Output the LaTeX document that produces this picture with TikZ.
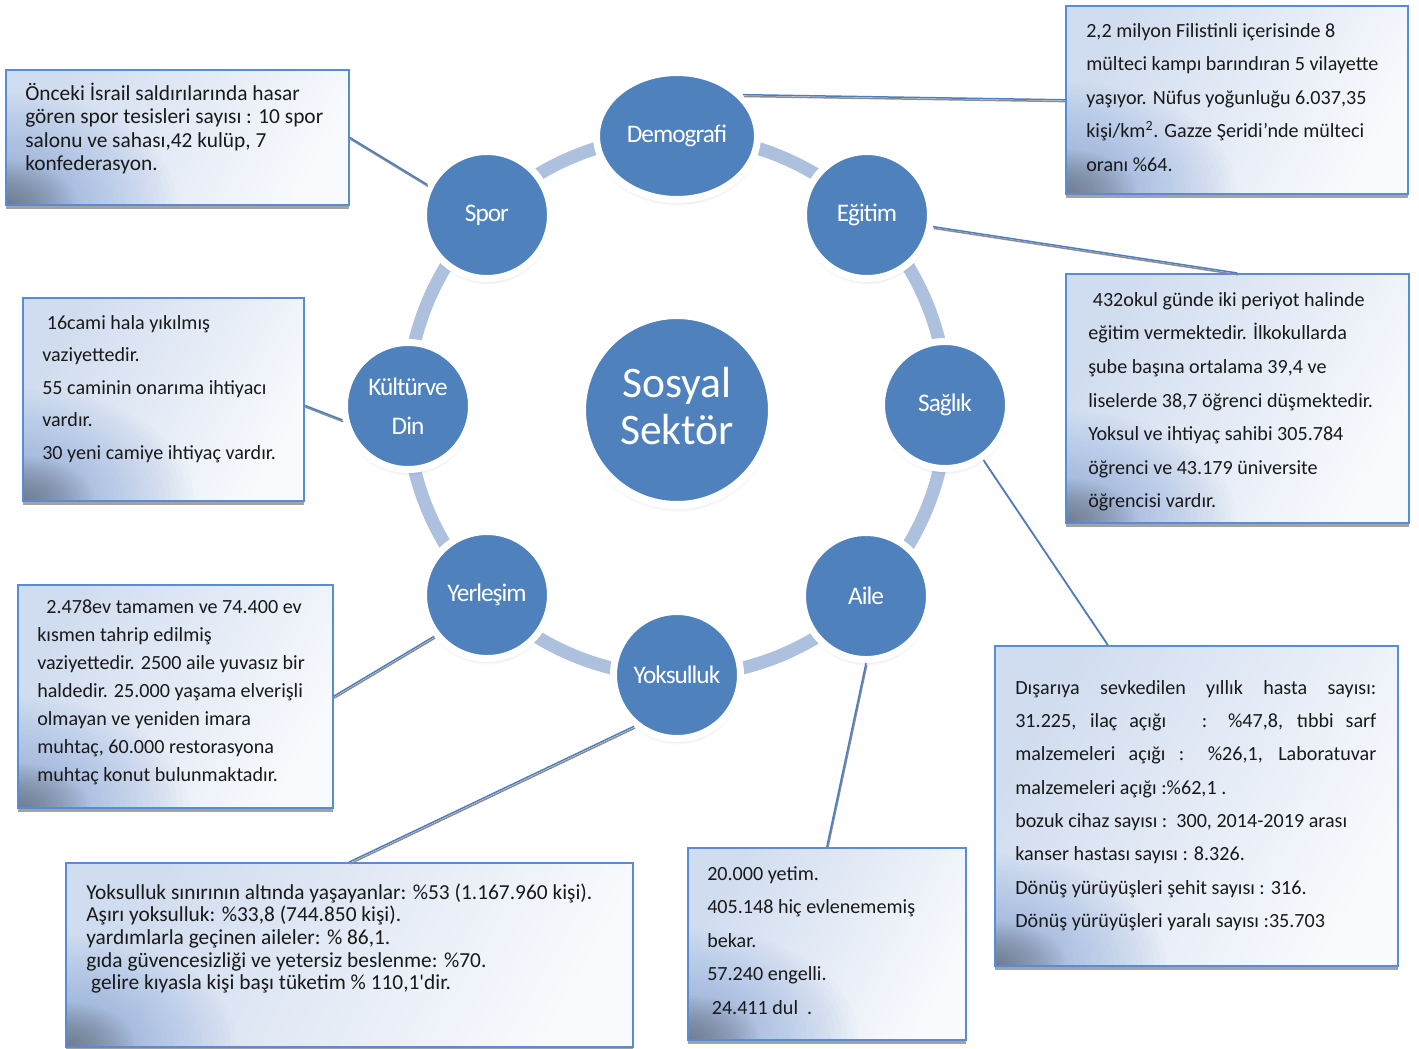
\documentclass[tikz,border=0pt]{standalone}
\usepackage{fontspec}
\setmainfont{Carlito}[Ligatures=TeXOff]
\newfontfamily\labfont[LetterSpace=-4]{Carlito}
\usetikzlibrary{shadows,shapes.geometric}
\newdimen\PX \PX=0.025cm
\definecolor{nodeblue}{RGB}{79,129,189}
\definecolor{ringblue}{RGB}{173,192,222}
\definecolor{boxline}{RGB}{88,140,212}
\definecolor{connblue}{RGB}{74,126,195}
\definecolor{boxL}{RGB}{208,220,239}
\definecolor{boxR}{RGB}{248,250,253}
\definecolor{cornerblue}{RGB}{125,160,212}
\definecolor{cornergray}{RGB}{95,95,105}
\tikzset{
  infobox/.style={rectangle, draw=boxline, line width=1.6\PX, inner sep=0pt, anchor=north west,
    left color=boxL, right color=boxR, shading angle=60,
    drop shadow={shadow xshift=0.4pt, shadow yshift=-2.8pt, opacity=0.6, fill=black!60},
    path picture={
      \foreach \k in {1,...,30}
        \fill[cornerblue, opacity=0.03] (path picture bounding box.south west) ellipse [x radius={5.7*\k*\PX}, y radius={3.7*\k*\PX}];
      \foreach \k in {1,...,24}
        \fill[cornergray, opacity=0.032] (path picture bounding box.south west) ellipse [x radius={3*\k*\PX}, y radius={1.85*\k*\PX}];
    }},
  bubble/.style={circle, fill=nodeblue, draw=white, line width=7\PX, inner sep=0pt,
    minimum size=127\PX, text=white, align=center,
    font=\labfont\fontsize{18}{28}\selectfont,
    circular drop shadow={shadow xshift=0pt, shadow yshift=-3pt, opacity=0.35, shadow scale=1.03}},
  ring/.style={draw=ringblue, line width=13\PX},
  conn/.style={draw=connblue, line width=1.5\PX},
  connsh/.style={draw=black!45, line width=1.5\PX, transform canvas={xshift=0.8\PX, yshift=-1.8\PX}},
  txt/.style={anchor=north west, inner sep=0pt, align=left, text=black!90},
}
\newcommand\linkab[2]{\draw[connsh] (#1) -- (#2); \draw[conn] (#1) -- (#2);}
\begin{document}
\begin{tikzpicture}[x=0.025cm, y=-0.025cm]
\useasboundingbox (0,0) rectangle (1419,1048);
\fill[white] (0,0) rectangle (1419,1048);

% ring
\draw[ring] (677,406) circle[radius=270\PX];

% circles
\node[bubble, minimum size=190\PX, line width=8\PX, font=\fontsize{31}{34}\selectfont] (sos) at (677,410) {Sosyal\\Sektör\rule[-6pt]{0pt}{1pt}};
\node[bubble] (cspor) at (487,215) {Spor};
\node[bubble, ellipse, minimum width=161\PX, minimum height=127\PX] (cdemo) at (677,136) {Demografi};
\node[bubble] (cegitim) at (867,215) {Eğitim};
\node[bubble] (csaglik) at (945,405) {Sağlık};
\node[bubble] (caile) at (866,596) {Aile};
\node[bubble] (cyok) at (677,675) {Yoksulluk};
\node[bubble] (cyer) at (487,595) {Yerleşim};
\node[bubble] (ckultur) at (408,406) {Kültürve\\Din};

% boxes
\node[infobox, minimum width=343\PX, minimum height=135\PX] (bspor) at (5,69) {};
\node[infobox, minimum width=342\PX, minimum height=188\PX] (bdemo) at (1065,5) {};
\node[infobox, minimum width=343\PX, minimum height=249\PX] (begitim) at (1065,273) {};
\node[infobox, minimum width=403\PX, minimum height=320\PX] (bsaglik) at (994,645) {};
\node[infobox, minimum width=278\PX, minimum height=192\PX] (baile) at (687,847) {};
\node[infobox, minimum width=567\PX, minimum height=184\PX] (byok) at (65,862) {};
\node[infobox, minimum width=315\PX, minimum height=223\PX] (byer) at (17,584) {};
\node[infobox, minimum width=281\PX, minimum height=203\PX] (bkultur) at (22,297) {};

% connectors
\linkab{cspor.153}{bspor.east}
\linkab{cdemo.32}{bdemo.west}
\linkab{cegitim.-10}{begitim.north}
\linkab{ckultur.192}{[yshift=-6\PX]bkultur.east}
\linkab{csaglik.-55}{[xshift=114\PX]bsaglik.north west}
\linkab{cyer.218}{byer.east}
\linkab{cyok.230}{byok.north}
\linkab{caile.south}{baile.north}

% texts
\node[txt, font=\fontsize{15.2}{16.7}\selectfont] (tspor) at (25,82.5) {\strut Önceki İsrail saldırılarında hasar\\gören spor tesisleri sayısı : 10 spor\\salonu ve sahası,42 kulüp, 7\\konfederasyon.};
\node[txt, font=\fontsize{14.3}{23.8}\selectfont] (tdemo) at (1086,13.5) {\strut 2,2 milyon Filistinli içerisinde 8\\mülteci kampı barındıran 5 vilayette\\yaşıyor. Nüfus yoğunluğu 6.037,35\\kişi/km\textsuperscript{2}. Gazze Şeridi’nde mülteci\\oranı \%64.};
\node[txt, font=\fontsize{14.3}{23.9}\selectfont] (tegitim) at (1088,282.5) {\strut\ 432okul günde iki periyot halinde\\eğitim vermektedir. İlkokullarda\\şube başına ortalama 39,4 ve\\liselerde 38,7 öğrenci düşmektedir.\\Yoksul ve ihtiyaç sahibi 305.784\\öğrenci ve 43.179 üniversite\\öğrencisi vardır.};
\node[txt, font=\fontsize{14.3}{23.7}\selectfont] (tsaglik) at (1015,670.7) {\strut\makebox[361\PX][s]{Dışarıya sevkedilen yıllık hasta sayısı:}\\\makebox[361\PX][s]{31.225, ilaç açığı \ \ : \%47,8, tıbbi sarf}\\\makebox[361\PX][s]{malzemeleri açığı : \%26,1, Laboratuvar}\\malzemeleri açığı :\%62,1 .\\bozuk cihaz sayısı :\ \ 300, 2014-2019 arası\\kanser hastası sayısı : 8.326.\\Dönüş yürüyüşleri şehit sayısı : 316.\\Dönüş yürüyüşleri yaralı sayısı :35.703};
\node[txt, font=\fontsize{14.3}{23.8}\selectfont] (taile) at (707,856.5) {\strut 20.000 yetim.\\405.148 hiç evlenememiş\\bekar.\\57.240 engelli.\\\ 24.411 dul\ \ .};
\node[txt, font=\fontsize{15.2}{16.1}\selectfont] (tyok) at (86,883.2) {\strut Yoksulluk sınırının altında yaşayanlar: \%53 (1.167.960 kişi).\\Aşırı yoksulluk: \%33,8 (744.850 kişi).\\yardımlarla geçinen aileler: \% 86,1.\\gıda güvencesizliği ve yetersiz beslenme: \%70.\\\ gelire kıyasla kişi başı tüketim \% 110,1'dir.};
\node[txt, font=\fontsize{14.3}{19.9}\selectfont] (tyer) at (37,593.4) {\strut\ \ 2.478ev tamamen ve 74.400 ev\\kısmen tahrip edilmiş\\vaziyettedir. 2500 aile yuvasız bir\\haldedir. 25.000 yaşama elverişli\\olmayan ve yeniden imara\\muhtaç, 60.000 restorasyona\\muhtaç konut bulunmaktadır.};
\node[txt, font=\fontsize{14.3}{23.1}\selectfont] (tkultur) at (42,306.25) {\strut\ 16cami hala yıkılmış\\vaziyettedir.\\55 caminin onarıma ihtiyacı\\vardır.\\30 yeni camiye ihtiyaç vardır.};
\end{tikzpicture}
\end{document}
